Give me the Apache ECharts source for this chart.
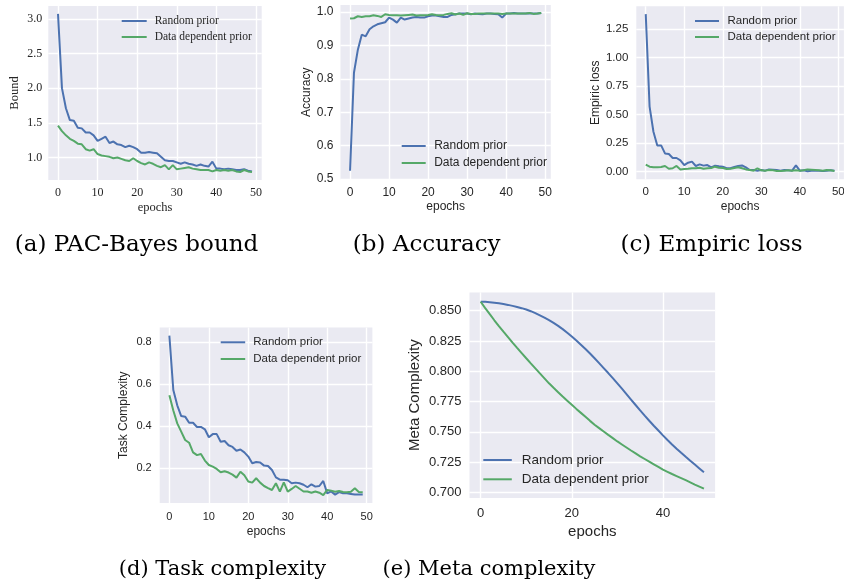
<!DOCTYPE html>
<html>
<head>
<meta charset="utf-8">
<script src="https://cdn.jsdelivr.net/npm/echarts@6/dist/echarts.min.js"></script>
<style>
  html, body { margin: 0; padding: 0; background: #fff; }
  #main { width: 844px; height: 588px; }
</style>
</head>
<body>
<div id="main"></div>
<script>
// epochs 0..49
const epochs = Array.from({ length: 50 }, (_, i) => i);
const names = ['Random prior', 'Data dependent prior'];

// (a) PAC-Bayes bound
const boundRandom = [3.07, 2.00, 1.71, 1.54, 1.53, 1.43, 1.42, 1.36, 1.36, 1.32,
  1.24, 1.27, 1.30, 1.21, 1.23, 1.19, 1.18, 1.15, 1.17, 1.15,
  1.12, 1.07, 1.07, 1.08, 1.07, 1.06, 1.01, 0.96, 0.95, 0.95,
  0.93, 0.91, 0.93, 0.91, 0.90, 0.88, 0.90, 0.88, 0.87, 0.94,
  0.84, 0.84, 0.83, 0.84, 0.83, 0.82, 0.82, 0.83, 0.81, 0.80];
const boundData = [1.46, 1.38, 1.32, 1.27, 1.24, 1.20, 1.19, 1.12, 1.10, 1.12,
  1.05, 1.03, 1.02, 1.01, 0.99, 1.00, 0.98, 0.96, 0.95, 0.99,
  0.95, 0.92, 0.90, 0.93, 0.91, 0.88, 0.86, 0.89, 0.83, 0.89,
  0.83, 0.84, 0.85, 0.86, 0.84, 0.83, 0.82, 0.82, 0.82, 0.80,
  0.82, 0.81, 0.82, 0.81, 0.82, 0.80, 0.79, 0.82, 0.80, 0.79];

// (b) Accuracy
const accRandom = [0.525, 0.818, 0.887, 0.932, 0.927, 0.948, 0.957, 0.963, 0.966, 0.969,
  0.983, 0.977, 0.968, 0.983, 0.977, 0.980, 0.983, 0.985, 0.983, 0.983,
  0.987, 0.989, 0.989, 0.987, 0.985, 0.985, 0.991, 0.993, 0.995, 0.995,
  0.995, 0.993, 0.995, 0.994, 0.993, 0.995, 0.995, 0.994, 0.993, 0.983,
  0.995, 0.995, 0.997, 0.995, 0.995, 0.995, 0.996, 0.995, 0.995, 0.997];
const accData = [0.980, 0.981, 0.987, 0.985, 0.987, 0.987, 0.990, 0.988, 0.985, 0.993,
  0.991, 0.990, 0.990, 0.989, 0.990, 0.991, 0.992, 0.989, 0.990, 0.990,
  0.991, 0.993, 0.991, 0.990, 0.991, 0.994, 0.996, 0.992, 0.995, 0.991,
  0.996, 0.994, 0.994, 0.995, 0.995, 0.995, 0.995, 0.995, 0.995, 0.994,
  0.995, 0.995, 0.995, 0.995, 0.995, 0.995, 0.997, 0.994, 0.995, 0.997];

// (c) Empiric loss
const lossRandom = [1.38, 0.57, 0.35, 0.23, 0.23, 0.16, 0.155, 0.12, 0.12, 0.10,
  0.058, 0.079, 0.088, 0.050, 0.064, 0.053, 0.058, 0.038, 0.053, 0.047,
  0.044, 0.030, 0.030, 0.041, 0.050, 0.055, 0.038, 0.015, 0.015, 0.009,
  0.015, 0.009, 0.020, 0.018, 0.015, 0.009, 0.015, 0.012, 0.009, 0.055,
  0.009, 0.012, 0.003, 0.009, 0.009, 0.009, 0.006, 0.009, 0.012, 0.009];
const lossData = [0.061, 0.044, 0.038, 0.038, 0.041, 0.050, 0.026, 0.030, 0.050, 0.020,
  0.023, 0.026, 0.030, 0.030, 0.035, 0.026, 0.030, 0.032, 0.044, 0.035,
  0.032, 0.023, 0.026, 0.032, 0.038, 0.030, 0.020, 0.015, 0.009, 0.030,
  0.012, 0.009, 0.015, 0.012, 0.006, 0.006, 0.009, 0.012, 0.009, 0.012,
  0.009, 0.012, 0.020, 0.018, 0.015, 0.012, 0.009, 0.015, 0.012, 0.006];

// (d) Task complexity
const taskRandom = [0.832, 0.573, 0.500, 0.449, 0.446, 0.417, 0.417, 0.397, 0.397, 0.386,
  0.348, 0.363, 0.363, 0.327, 0.330, 0.310, 0.302, 0.284, 0.290, 0.276,
  0.256, 0.224, 0.230, 0.228, 0.213, 0.211, 0.192, 0.157, 0.146, 0.146,
  0.143, 0.129, 0.132, 0.129, 0.122, 0.110, 0.124, 0.113, 0.116, 0.140,
  0.081, 0.090, 0.075, 0.087, 0.081, 0.081, 0.078, 0.075, 0.075, 0.075];
const taskData = [0.548, 0.475, 0.414, 0.375, 0.335, 0.322, 0.276, 0.263, 0.268, 0.237,
  0.216, 0.208, 0.197, 0.181, 0.186, 0.180, 0.170, 0.156, 0.184, 0.167,
  0.137, 0.132, 0.153, 0.132, 0.116, 0.106, 0.097, 0.129, 0.089, 0.133,
  0.089, 0.102, 0.116, 0.103, 0.090, 0.090, 0.084, 0.090, 0.084, 0.073,
  0.097, 0.094, 0.089, 0.092, 0.087, 0.086, 0.089, 0.105, 0.087, 0.086];

// (e) Meta complexity
const metaRandom = [0.8574, 0.8573, 0.8570, 0.8566, 0.8561, 0.8555, 0.8548, 0.8540, 0.8531, 0.8521,
  0.8510, 0.8496, 0.8480, 0.8462, 0.8443, 0.8423, 0.8400, 0.8375, 0.8348, 0.8318,
  0.8286, 0.8253, 0.8219, 0.8183, 0.8146, 0.8107, 0.8067, 0.8026, 0.7985, 0.7943,
  0.7900, 0.7856, 0.7811, 0.7766, 0.7721, 0.7676, 0.7633, 0.7591, 0.7550, 0.7510,
  0.7470, 0.7432, 0.7395, 0.7360, 0.7326, 0.7293, 0.7261, 0.7229, 0.7197, 0.7165];
const metaData = [0.8574, 0.8522, 0.8471, 0.8421, 0.8373, 0.8327, 0.8282, 0.8237, 0.8193, 0.8150,
  0.8107, 0.8065, 0.8024, 0.7982, 0.7941, 0.7900, 0.7863, 0.7827, 0.7791, 0.7757,
  0.7723, 0.7689, 0.7656, 0.7623, 0.7590, 0.7558, 0.7530, 0.7502, 0.7474, 0.7447,
  0.7420, 0.7395, 0.7370, 0.7345, 0.7321, 0.7297, 0.7275, 0.7253, 0.7231, 0.7209,
  0.7187, 0.7169, 0.7151, 0.7134, 0.7117, 0.7100, 0.7082, 0.7064, 0.7047, 0.7030];

// tick labels
const xTicks = [0, 10, 20, 30, 40, 50];
const xTicksMeta = [0, 20, 40];
const yTicksBound = [1.0, 1.5, 2.0, 2.5, 3.0];
const yTicksAcc = [0.5, 0.6, 0.7, 0.8, 0.9, 1.0];
const yTicksLoss = [0, 0.25, 0.5, 0.75, 1.0, 1.25];
const yTicksTask = [0.2, 0.4, 0.6, 0.8];
const yTicksMeta = [0.7, 0.725, 0.75, 0.775, 0.8, 0.825, 0.85];

const captions = ['(a) PAC-Bayes bound', '(b) Accuracy', '(c) Empiric loss',
  '(d) Task complexity', '(e) Meta complexity'];

const BLUE = '#4C72B0', GREEN = '#55A868', TXT = '#262626';
const SERIF = "'Liberation Serif', 'Times New Roman', serif";
const SANS = "'Liberation Sans', Arial, sans-serif";

// layout of the five panels
const panels = [
  { series: [boundRandom, boundData], yName: 'Bound', xt: xTicks, yt: yTicksBound, dec: 1,
    grid: { left: 48.3, top: 6, width: 213.4, height: 174 }, font: SERIF,
    tick: 12, name: 12.5, yGap: 27.5, xGap: 21, yMargin: 6, xMargin: 7,
    leg: { x: 121.7, y: 14, w: 25, lh: 14, gap: 2, size: 11.5, pad: 3 }, cap: [136.5, 245, 23] },
  { series: [accRandom, accData], yName: 'Accuracy', xt: xTicks, yt: yTicksAcc, dec: 1, floor: 0.499,
    grid: { left: 340.5, top: 5, width: 210.3, height: 174.5 }, font: SANS,
    tick: 12, name: 12, yGap: 27.5, xGap: 21, yMargin: 7, xMargin: 7,
    leg: { x: 401.7, y: 139, w: 24, lh: 14, gap: 3, size: 12, pad: 3.5 }, cap: [426.7, 245, 23] },
  { series: [lossRandom, lossData], yName: 'Empiric loss', xt: xTicks, yt: yTicksLoss, dec: 2,
    grid: { left: 636.3, top: 6.3, width: 207.6, height: 172.9 }, font: SANS,
    tick: 11.5, name: 12, yGap: 35, xGap: 21.5, yMargin: 8, xMargin: 7,
    leg: { x: 695, y: 14, w: 24, lh: 14, gap: 2, size: 11.5, pad: 3.5 }, cap: [711.5, 245, 23] },
  { series: [taskRandom, taskData], yName: 'Task Complexity', xt: xTicks, yt: yTicksTask, dec: 1,
    grid: { left: 159.7, top: 327.6, width: 212.7, height: 175.4 }, font: SANS,
    tick: 11, name: 12, yGap: 30, xGap: 22.5, yMargin: 8, xMargin: 8,
    leg: { x: 220.7, y: 335.3, w: 24.5, lh: 14, gap: 2.7, size: 11.5, pad: 3 }, cap: [222.5, 570, 21] },
  { series: [metaRandom, metaData], yName: 'Meta Complexity', xt: xTicksMeta, yt: yTicksMeta, dec: 3,
    grid: { left: 469.5, top: 292.4, width: 245.6, height: 205.6 }, font: SANS,
    tick: 13, name: 15, yGap: 47, xGap: 26, yMargin: 8, xMargin: 8.5,
    leg: { x: 483.3, y: 452, w: 28.5, lh: 16, gap: 3.3, size: 13.5, pad: 5 }, cap: [489, 570, 21] }
];

// matplotlib-like 5% margins
function padded(arrs) {
  const all = [].concat(...arrs);
  const lo = Math.min(...all), hi = Math.max(...all), m = (hi - lo) * 0.05;
  return [lo - m, hi + m];
}

const grids = [], xAxes = [], yAxes = [], series = [], legends = [], graphics = [];
panels.forEach((p, i) => {
  grids.push(Object.assign({ show: true, backgroundColor: '#EAEAF2', borderWidth: 0, outerBoundsMode: 'none' }, p.grid));
  let [ymin, ymax] = padded(p.series);
  if (p.floor !== undefined) ymin = Math.min(ymin, p.floor);
  const split = { show: true, lineStyle: { color: '#ffffff', width: 1.4 } };
  xAxes.push({
    type: 'value', gridIndex: i, min: -2.45, max: 51.45,
    name: 'epochs', nameLocation: 'middle', nameGap: p.xGap, nameMoveOverlap: false,
    nameTextStyle: { fontFamily: p.font, fontSize: p.name, color: TXT, lineHeight: p.name },
    axisLine: { show: false }, axisTick: { show: false, customValues: p.xt },
    axisLabel: { customValues: p.xt, fontFamily: p.font, fontSize: p.tick, color: TXT, margin: p.xMargin },
    splitLine: split
  });
  yAxes.push({
    type: 'value', gridIndex: i, min: ymin, max: ymax,
    name: p.yName, nameLocation: 'middle', nameGap: p.yGap, nameMoveOverlap: false,
    nameTextStyle: { fontFamily: p.font, fontSize: p.name, color: TXT, lineHeight: p.name },
    axisLine: { show: false }, axisTick: { show: false, customValues: p.yt },
    axisLabel: { customValues: p.yt, fontFamily: p.font, fontSize: p.tick, color: TXT, margin: p.yMargin,
      formatter: v => v.toFixed(p.dec) },
    splitLine: split
  });
  p.series.forEach((vals, k) => {
    series.push({
      name: names[k], type: 'line', xAxisIndex: i, yAxisIndex: i,
      data: epochs.map((e, j) => [e, vals[j]]),
      symbol: 'none', color: k ? GREEN : BLUE,
      lineStyle: { width: 2, color: k ? GREEN : BLUE }
    });
  });
  legends.push({
    data: names, orient: 'vertical', left: p.leg.x, top: p.leg.y, padding: 0,
    icon: 'rect', itemWidth: p.leg.w, itemHeight: 2, itemGap: p.leg.gap, selectedMode: false,
    textStyle: { fontFamily: p.font, fontSize: p.leg.size, lineHeight: p.leg.lh, color: TXT,
      padding: [0, 0, 0, p.leg.pad] }
  });
  graphics.push({
    type: 'text', x: p.cap[0], y: p.cap[1],
    style: { text: captions[i], font: p.cap[2] + "px 'DejaVu Serif'", fill: '#000', align: 'center', verticalAlign: 'middle' }
  });
});

const chart = echarts.init(document.getElementById('main'));
chart.setOption({
  backgroundColor: '#ffffff',
  animation: false,
  grid: grids,
  xAxis: xAxes,
  yAxis: yAxes,
  legend: legends,
  series: series,
  graphic: graphics
});
</script>
</body>
</html>
